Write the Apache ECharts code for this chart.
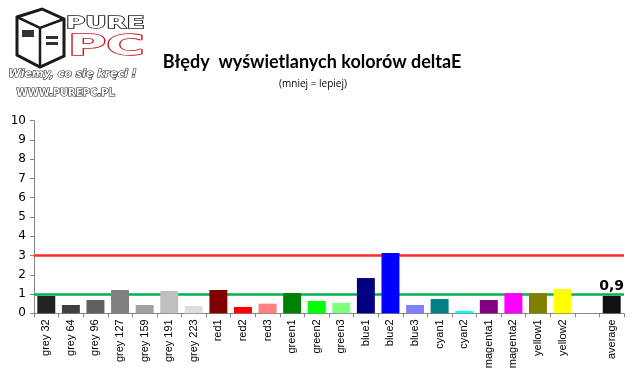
<!DOCTYPE html>
<html><head><meta charset="utf-8">
<script src="https://cdn.jsdelivr.net/npm/echarts@6/dist/echarts.min.js"></script>
<style>html,body{margin:0;padding:0;background:#fff}#c{width:639px;height:379px}</style>
</head><body><div id="c"></div>
<script>
const categories = ['grey 32','grey 64','grey 96','grey 127','grey 159','grey 191','grey 223','red1','red2','red3','green1','green2','green3','blue1','blue2','blue3','cyan1','cyan2','magenta1','magenta2','yellow1','yellow2','','average'];
const values = [0.90,0.43,0.69,1.21,0.43,1.16,0.38,1.21,0.33,0.50,1.05,0.64,0.54,1.83,3.13,0.43,0.74,0.12,0.69,1.05,1.05,1.26,null,0.90];
const barColors = ['#222222','#404040','#606060','#7f7f7f','#a0a0a0','#bfbfbf','#dedede','#800000','#ff0000','#ff8080','#008000','#00ff00','#80ff80','#000080','#0000ff','#8080ff','#008080','#00ffff','#800080','#ff00ff','#808000','#ffff00','#ffffff','#111111'];
const refLines = [1, 3];
const yTicks = {min:0, max:10, interval:1};
const averageLabel = '0,9';

const chart = echarts.init(document.getElementById('c'), null, {renderer:'canvas'});
const data = values.map((v,i)=>({
  value:v,
  itemStyle:{color:barColors[i]},
  label: categories[i]==='average' ? {show:true, position:'top', formatter:averageLabel, fontSize:14, fontWeight:'bold', color:'#000', fontFamily:'DejaVu Sans', distance:3} : {show:false}
}));
chart.setOption({
  animation:false,
  backgroundColor:'#fff',
  title:[
    {text:'Błędy  wyświetlanych kolorów deltaE', left:307, top:48, textAlign:'center',
     textStyle:{fontFamily:'Lato', fontWeight:'bold', fontSize:18, color:'#000'}},
    {text:'(mniej = lepiej)', left:308, top:74, textAlign:'center',
     textStyle:{fontFamily:'Open Sans', fontWeight:'normal', fontSize:10, color:'#000'}}
  ],
  grid:{left:34, right:15, top:120.7, bottom:65.7, containLabel:false},
  xAxis:{type:'category', data:categories,
    axisLine:{lineStyle:{color:'#868686', width:1}},
    axisTick:{show:true, length:4, lineStyle:{color:'#868686'}, alignWithLabel:false},
    axisLabel:{rotate:90, interval:0, fontFamily:'Liberation Sans', fontSize:11, color:'#000', margin:6}},
  yAxis:{type:'value', min:yTicks.min, max:yTicks.max, interval:yTicks.interval,
    axisLine:{show:true, lineStyle:{color:'#868686'}},
    axisTick:{show:true, length:4, lineStyle:{color:'#868686'}},
    splitLine:{show:false},
    axisLabel:{fontFamily:'DejaVu Sans', fontSize:12, color:'#000', margin:8}},
  series:[
    {type:'line', data:[], z:1, silent:true,
      markLine:{silent:true, symbol:'none', z:1, label:{show:false},
        data:[
          {yAxis:refLines[0], lineStyle:{color:'#00b050', width:2.5, type:'solid'}},
          {yAxis:refLines[1], lineStyle:{color:'#ff2828', width:2.5, type:'solid'}}
        ]}},
    {type:'bar', data:data, barCategoryGap:'27%', z:10}
  ],
  graphic:[
    {type:'polygon', z:100, shape:{points:[[17,17],[42,9],[64,19],[64,56],[40,67],[17,55]]}, style:{fill:'#fff', stroke:'#1a1a1a', lineWidth:3}},
    {type:'polyline', z:101, shape:{points:[[17,17],[40,28],[64,19]]}, style:{stroke:'#1a1a1a', lineWidth:2.5, fill:null}},
    {type:'line', z:101, shape:{x1:40,y1:28,x2:40,y2:67}, style:{stroke:'#1a1a1a', lineWidth:2.5}},
    {type:'rect', z:101, shape:{x:22,y:30,width:12,height:7}, style:{fill:'#333'}},
    {type:'rect', z:101, shape:{x:46,y:36,width:12,height:3}, style:{fill:'#333'}},
    {type:'rect', z:101, shape:{x:46,y:42,width:12,height:3}, style:{fill:'#333'}},
    {type:'text', z:101, x:66, y:17, scaleX:1.75, style:{text:'PURE', fontFamily:'DejaVu Sans', fontSize:15, fontWeight:'bold', fill:'#fff', stroke:'#222', lineWidth:1.3, letterSpacing:1}},
    {type:'text', z:101, x:68, y:33, scaleX:1.8, style:{text:'PC', fontFamily:'DejaVu Sans', fontSize:29, fontWeight:'bold', fill:'#fff', stroke:'#c0141c', lineWidth:1.6, letterSpacing:2}},
    {type:'text', z:101, left:8, top:68, style:{text:'Wiemy, co się kręci !', fontFamily:'DejaVu Sans', fontSize:11, fontWeight:'bold', fontStyle:'italic', fill:'#fff', stroke:'#222', lineWidth:1.2}},
    {type:'text', z:101, left:16, top:88, style:{text:'WWW.PUREPC.PL', fontFamily:'DejaVu Sans', fontSize:10, fontWeight:'bold', fill:'#fff', stroke:'#222', lineWidth:1.2}}
  ]
});
</script></body></html>
